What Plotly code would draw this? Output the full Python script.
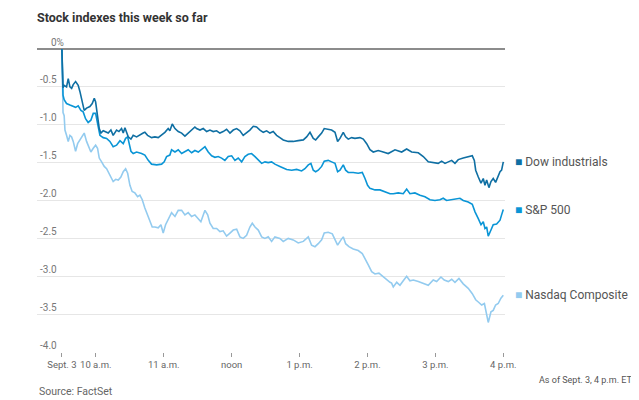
import pandas as pd
import plotly.graph_objects as go

# minutes after 9:30 a.m. ET, and % change this week
dow_min = [0, 1, 2.0, 4.1, 5.6, 7.1, 8.6, 10.0, 12.1, 14.4, 15.9, 17.4, 19.7, 21.8, 24.7, 26.8, 28.6, 29.8, 31.5, 33.0,
           34.5, 36.5, 39.5, 40.9, 43.3, 45.3, 48.3, 50.4, 52.7, 54.2, 55.7, 57.2, 58.6, 61.0, 63.0, 66.0, 68.9, 71.8,
           73.3, 75.7, 79.2, 82.2, 85.1, 88.1, 91.0, 93.9, 95.4, 97.5, 99.9, 102.8, 105.8, 108.7, 111.6, 114.6, 117.5,
           119.0, 122.0, 124.9, 127.9, 130.8, 133.7, 136.7, 139.6, 142.5, 145.5, 148.5, 151.4, 154.4, 157.3, 160.2,
           163.2, 166.1, 169.1, 172.0, 175.0, 177.9, 180.9, 183.8, 186.7, 189.7, 192.6, 195.6, 200.0, 204.4, 208.8,
           213.3, 216.2, 219.2, 222.1, 224.2, 226.5, 229.5, 231.8, 234.8, 238.3, 241.3, 243.6, 245.7, 248.6, 250.7,
           253.0, 256.0, 258.9, 263.3, 266.3, 269.3, 272.2, 275.1, 279.5, 283.9, 288.3, 294.3, 300.2, 304.6, 309.0,
           314.9, 319.3, 323.7, 328.1, 332.5, 335.5, 338.5, 341.4, 344.4, 347.3, 350.2, 354.6, 359.0, 362.6, 364.4,
           365.6, 367.9, 370.3, 372.3, 373.8, 375.3, 377.3, 379.1, 381.1, 383.2, 385.0, 387.1, 388.5, 390]
dow_val = [0, -0.51, -0.48, -0.50, -0.39, -0.50, -0.52, -0.47, -0.43, -0.48, -0.56, -0.67, -0.81, -0.78, -0.76, -0.72,
           -0.65, -0.70, -0.87, -1.05, -1.11, -1.08, -1.10, -1.11, -1.07, -1.14, -1.07, -1.09, -1.05, -1.11, -1.04,
           -1.09, -1.16, -1.19, -1.14, -1.16, -1.13, -1.11, -1.10, -1.14, -1.17, -1.16, -1.17, -1.14, -1.10, -1.05,
           -1.08, -0.99, -1.05, -1.09, -1.11, -1.15, -1.11, -1.08, -1.03, -1.05, -1.07, -1.05, -1.09, -1.07, -1.09,
           -1.08, -1.11, -1.09, -1.06, -1.11, -1.07, -1.05, -1.08, -1.14, -1.11, -1.07, -1.02, -1.03, -1.07, -1.10,
           -1.08, -1.11, -1.09, -1.14, -1.17, -1.20, -1.22, -1.22, -1.21, -1.20, -1.16, -1.10, -1.18, -1.20, -1.16,
           -1.11, -1.05, -1.06, -1.07, -1.10, -1.22, -1.18, -1.10, -1.16, -1.19, -1.17, -1.18, -1.17, -1.19, -1.25,
           -1.33, -1.36, -1.34, -1.36, -1.38, -1.33, -1.36, -1.32, -1.36, -1.37, -1.42, -1.49, -1.50, -1.51, -1.48,
           -1.51, -1.49, -1.47, -1.51, -1.46, -1.44, -1.42, -1.41, -1.47, -1.60, -1.69, -1.77, -1.71, -1.80, -1.73,
           -1.83, -1.75, -1.71, -1.76, -1.69, -1.62, -1.60, -1.49]

sp_min = [0, 1, 2.0, 4.1, 7.1, 10.0, 12.1, 14.4, 16.8, 18.8, 20.9, 23.2, 25.6, 27.7, 29.8, 31.5, 33.6, 36.5, 39.5,
          42.4, 45.3, 48.3, 51.3, 54.2, 56.3, 58.1, 59.2, 61.0, 63.0, 66.0, 70.4, 73.3, 76.3, 79.2, 83.7, 88.1, 90.4,
          92.5, 95.4, 96.9, 99.9, 102.8, 105.8, 108.7, 111.6, 114.6, 117.5, 120.5, 123.5, 126.4, 129.3, 132.3, 135.2,
          138.1, 141.1, 144.0, 147.0, 150.0, 152.9, 155.8, 158.8, 161.7, 164.6, 167.6, 170.6, 173.5, 176.5, 179.4,
          182.3, 185.3, 188.2, 192.6, 198.6, 203.0, 207.4, 211.8, 214.7, 217.7, 220.0, 222.1, 224.2, 226.5, 229.5,
          231.8, 235.3, 238.3, 241.3, 243.6, 245.7, 248.6, 250.7, 253.0, 257.4, 261.8, 265.4, 267.8, 270.1, 272.2,
          276.6, 281.0, 285.4, 289.9, 292.8, 297.2, 301.6, 304.6, 307.5, 311.9, 316.4, 320.8, 325.2, 329.6, 334.0,
          336.9, 339.9, 344.4, 348.8, 351.7, 354.6, 359.0, 362.6, 365.0, 367.9, 370.3, 372.3, 373.8, 375.3, 376.7,
          379.1, 381.1, 384.1, 387.1, 388.5, 390]
sp_val = [0, -0.61, -0.67, -0.72, -0.74, -0.76, -0.77, -0.75, -0.81, -0.83, -0.92, -0.97, -0.94, -0.85, -0.85, -0.98,
          -1.14, -1.17, -1.18, -1.22, -1.29, -1.27, -1.21, -1.25, -1.18, -1.16, -1.22, -1.35, -1.38, -1.36, -1.38,
          -1.40, -1.47, -1.52, -1.53, -1.52, -1.49, -1.42, -1.40, -1.33, -1.36, -1.33, -1.38, -1.36, -1.33, -1.37,
          -1.34, -1.36, -1.33, -1.29, -1.36, -1.41, -1.43, -1.42, -1.44, -1.47, -1.42, -1.41, -1.47, -1.44, -1.49,
          -1.42, -1.39, -1.38, -1.42, -1.46, -1.51, -1.49, -1.50, -1.49, -1.52, -1.55, -1.59, -1.60, -1.59, -1.61,
          -1.58, -1.53, -1.51, -1.60, -1.62, -1.60, -1.55, -1.48, -1.47, -1.49, -1.51, -1.62, -1.60, -1.53, -1.60,
          -1.63, -1.63, -1.64, -1.63, -1.71, -1.80, -1.84, -1.86, -1.86, -1.88, -1.91, -1.91, -1.90, -1.91, -1.85,
          -1.91, -1.90, -1.93, -1.95, -1.99, -2.00, -1.99, -1.97, -2.00, -1.99, -1.98, -1.97, -2.00, -2.02, -2.05,
          -2.15, -2.24, -2.32, -2.28, -2.37, -2.35, -2.47, -2.39, -2.32, -2.31, -2.26, -2.19, -2.12]

nq_min = [0, 1, 2.0, 2.7, 4.1, 5.6, 7.1, 8.6, 10.0, 12.1, 13.9, 15.9, 18.0, 19.7, 21.8, 23.2, 25.6, 27.7, 29.8, 31.5,
          33.0, 35.1, 37.4, 39.5, 41.5, 43.3, 45.3, 47.5, 49.8, 52.1, 54.2, 56.3, 58.1, 60.1, 62.1, 64.5, 66.9, 68.9,
          71.0, 73.3, 75.7, 77.8, 79.8, 82.2, 85.1, 87.5, 89.5, 91.6, 93.9, 96.9, 99.9, 102.8, 105.8, 108.7, 111.6,
          114.6, 117.5, 120.5, 122.8, 126.4, 128.8, 130.8, 133.7, 136.7, 139.6, 142.5, 145.5, 148.5, 151.4, 154.4,
          157.3, 160.2, 163.2, 166.1, 168.2, 170.6, 173.5, 176.5, 179.4, 182.3, 185.3, 188.2, 192.6, 195.6, 200.0,
          204.4, 208.8, 213.3, 217.7, 220.6, 223.6, 226.5, 229.5, 231.8, 235.3, 238.9, 241.3, 243.6, 246.6, 248.6,
          250.7, 253.6, 257.4, 261.8, 265.4, 267.8, 270.7, 273.7, 276.6, 280.1, 283.9, 286.9, 289.9, 291.3, 292.8,
          295.8, 298.7, 301.6, 304.6, 307.5, 310.5, 314.9, 319.3, 323.7, 328.1, 331.1, 334.9, 337.8, 341.4, 344.4,
          347.3, 350.8, 354.6, 359.0, 362.6, 365.6, 367.9, 370.9, 373.3, 375.3, 376.7, 379.1, 381.1, 383.2, 385.5,
          387.9, 390]
nq_val = [0, -0.84, -0.88, -1.07, -1.14, -1.22, -1.14, -1.16, -1.22, -1.35, -1.25, -1.20, -1.16, -1.11, -1.22, -1.27,
          -1.36, -1.31, -1.27, -1.31, -1.44, -1.49, -1.55, -1.58, -1.64, -1.71, -1.75, -1.72, -1.73, -1.69, -1.62,
          -1.58, -1.64, -1.80, -1.88, -1.90, -1.95, -1.93, -1.99, -2.10, -2.19, -2.28, -2.35, -2.35, -2.36, -2.32,
          -2.43, -2.32, -2.24, -2.16, -2.21, -2.13, -2.13, -2.19, -2.16, -2.21, -2.19, -2.24, -2.28, -2.13, -2.19,
          -2.30, -2.37, -2.37, -2.41, -2.40, -2.47, -2.43, -2.39, -2.38, -2.48, -2.50, -2.46, -2.35, -2.30, -2.35,
          -2.39, -2.48, -2.50, -2.48, -2.54, -2.48, -2.50, -2.54, -2.50, -2.52, -2.56, -2.54, -2.48, -2.59, -2.61,
          -2.57, -2.52, -2.43, -2.42, -2.44, -2.52, -2.59, -2.52, -2.48, -2.57, -2.61, -2.64, -2.66, -2.70, -2.76,
          -2.85, -2.94, -2.97, -2.96, -3.01, -3.05, -3.08, -3.09, -3.14, -3.08, -3.12, -3.06, -3.00, -3.06, -3.05,
          -3.07, -3.09, -3.12, -3.05, -3.07, -3.01, -3.05, -3.07, -3.04, -3.08, -3.03, -3.10, -3.16, -3.23, -3.31,
          -3.34, -3.38, -3.36, -3.51, -3.61, -3.47, -3.45, -3.38, -3.36, -3.29, -3.25]

series_names = ["Dow industrials", "S&P 500", "Nasdaq Composite"]
series_colors = ["#0f6fa3", "#0a95d6", "#93cbef"]

y_tickvals = [-0.5, -1.0, -1.5, -2.0, -2.5, -3.0, -3.5, -4.0]
y_ticktext = ["-0.5", "-1.0", "-1.5", "-2.0", "-2.5", "-3.0", "-3.5", "-4.0"]
y_top_value = 0
y_top_label = "0%"
x_tick_times = ["09:30", "10:00", "11:00", "12:00", "13:00", "14:00", "15:00", "16:00"]
x_ticktext = ["Sept. 3", "10 a.m.", "11 a.m.", "noon", "1 p.m.", "2 p.m.", "3 p.m.", "4 p.m."]

DAY = "2019-09-03"
open_t = pd.Timestamp(DAY + " 09:30")


def to_time(mins):
    return [open_t + pd.Timedelta(minutes=m) for m in mins]


# page body has an 8px margin, so the figure is sized to the remaining area
W, H = 631, 392
L, T = 29, 41
PW, PH = 468, 303

fig = go.Figure()
data = [(dow_min, dow_val), (sp_min, sp_val), (nq_min, nq_val)]
for (mins, vals), name, color in zip(reversed(data), reversed(series_names), reversed(series_colors)):
    fig.add_trace(go.Scatter(x=to_time(mins), y=vals, mode="lines", name=name,
                             line=dict(color=color, width=1.6), cliponaxis=False,
                             hoverinfo="skip", showlegend=False))

# end labels
for (mins, vals), name, color in zip(data, series_names, series_colors):
    fig.add_annotation(x=to_time(mins)[-1], y=vals[-1], xref="x", yref="y",
                       text=f'<span style="color:{color}">■</span> {name}',
                       showarrow=False, xanchor="left", yanchor="middle", xshift=10,
                       font=dict(family="Roboto, Lato, sans-serif", size=12, color="#555555"))

# 0% label sits above the zero line
fig.add_annotation(x=12 / PW, y=y_top_value, xref="paper", yref="y", text=y_top_label,
                   showarrow=False, xanchor="left", yanchor="bottom", yshift=-1,
                   font=dict(family="Roboto, sans-serif", size=10, color="#777777"))

fig.add_annotation(x=0, y=-0.132, xref="paper", yref="paper", text="Source: FactSet",
                   showarrow=False, xanchor="left", yanchor="middle",
                   font=dict(family="Roboto, sans-serif", size=10.5, color="#666666"))
fig.add_annotation(x=(634 - 8 - L) / PW, y=-0.093, xref="paper", yref="paper", text="As of Sept. 3, 4 p.m. ET",
                   showarrow=False, xanchor="right", yanchor="middle",
                   font=dict(family="Roboto, sans-serif", size=9, color="#555555"))

fig.update_layout(
    width=W, height=H,
    margin=dict(l=L, r=W - L - PW, t=T, b=H - T - PH, autoexpand=False),
    paper_bgcolor="white", plot_bgcolor="white",
    title=dict(text="<b>Stock indexes this week so far</b>", x=L / W, xanchor="left",
               y=1 - 10 / H, yanchor="middle", yref="container",
               font=dict(family="Roboto, Lato, sans-serif", size=12.5, color="#333333")),
    xaxis=dict(
        type="date",
        range=[open_t - pd.Timedelta(minutes=22), open_t + pd.Timedelta(minutes=391.5)],
        tickmode="array",
        tickvals=[pd.Timestamp(DAY + " " + t) for t in x_tick_times],
        ticktext=x_ticktext,
        ticks="outside", ticklen=4, tickwidth=1, tickcolor="#999999",
        showgrid=False, showline=False, zeroline=False,
        tickfont=dict(family="Roboto, sans-serif", size=9.5, color="#666666"),
    ),
    yaxis=dict(
        range=[-4.0, 0.0],
        tickmode="array", tickvals=y_tickvals, ticktext=y_ticktext,
        ticklabelposition="inside top", ticks="",
        showgrid=True, gridcolor="#e6e6e6", gridwidth=1,
        zeroline=True, zerolinecolor="#8c8c8c", zerolinewidth=1.5,
        showline=False,
        tickfont=dict(family="Roboto, sans-serif", size=10, color="#777777"),
    ),
)

fig.write_html("out.html")
